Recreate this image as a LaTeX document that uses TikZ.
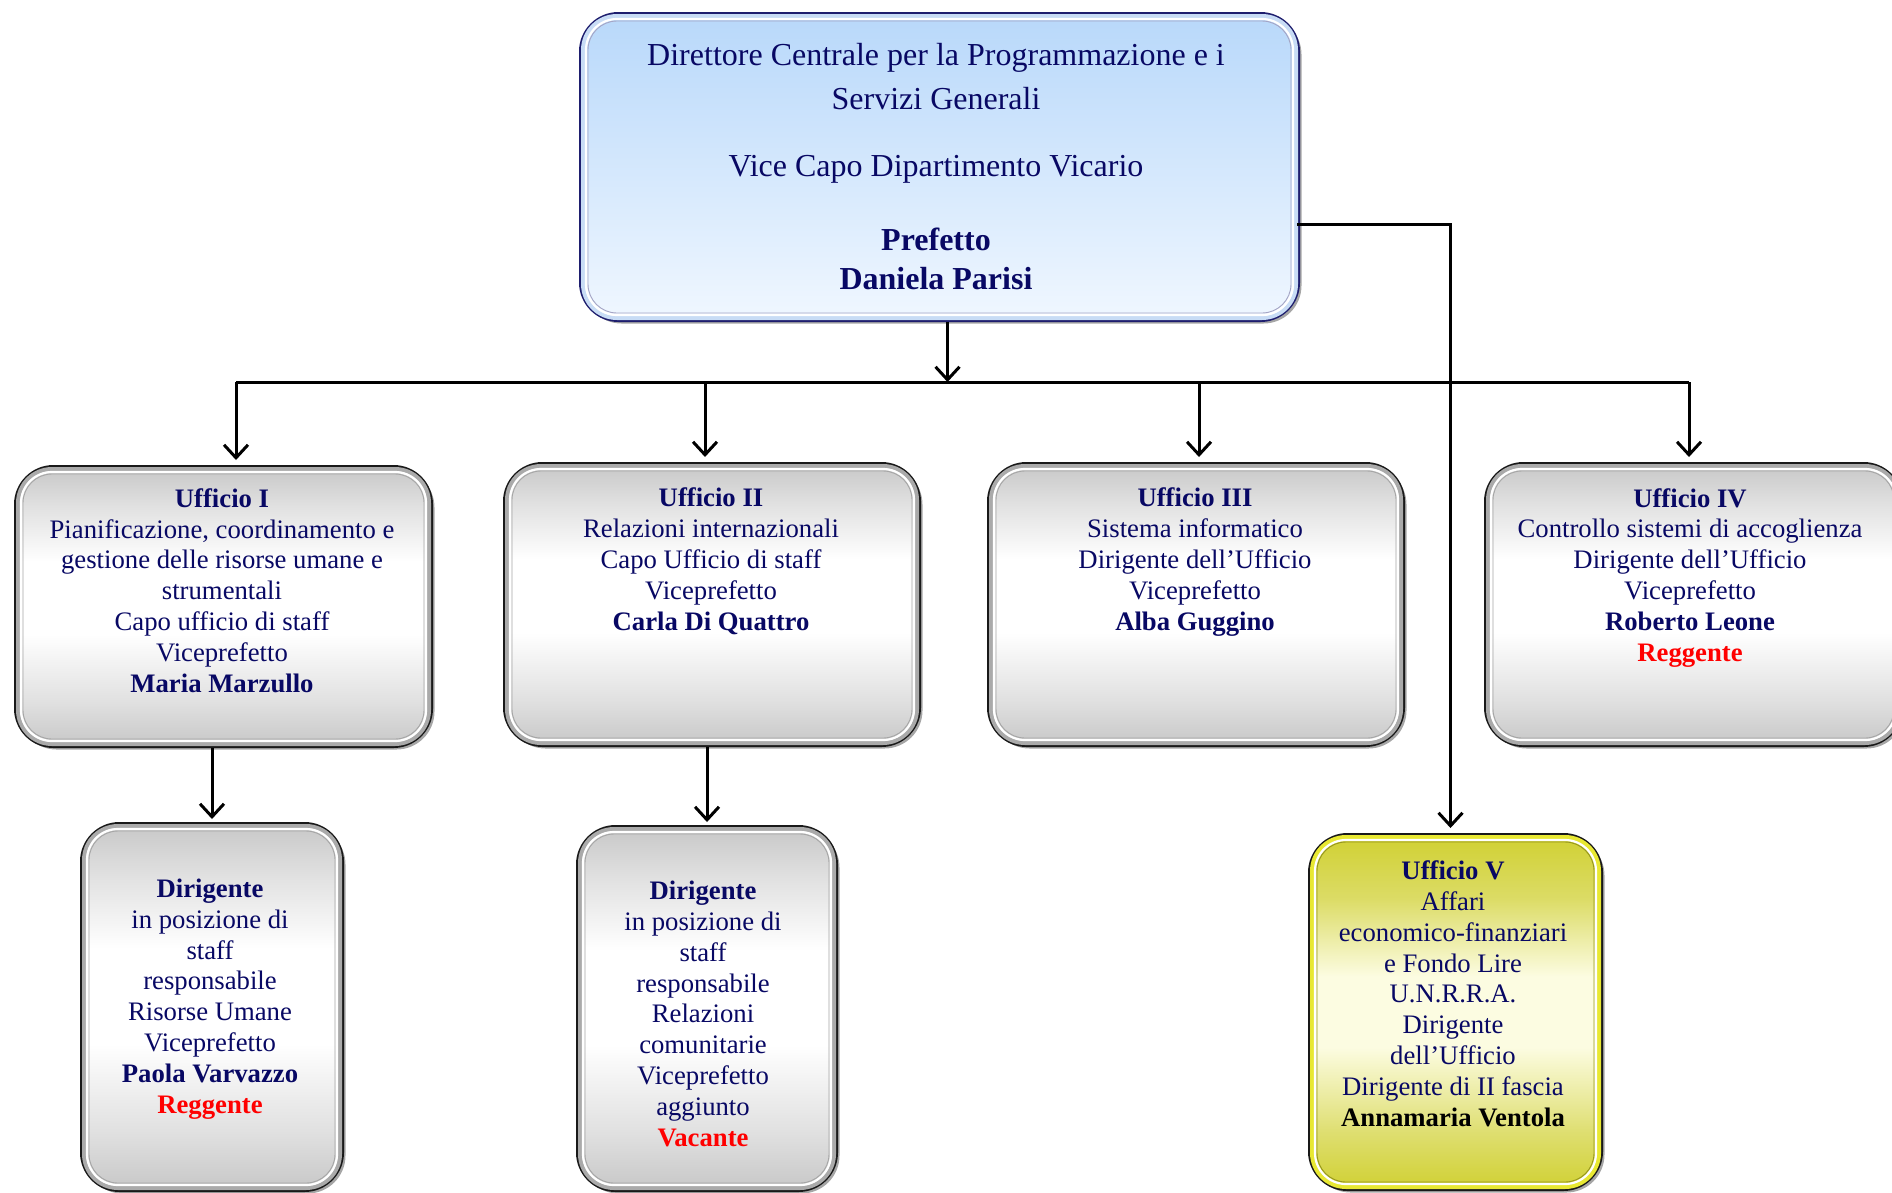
\documentclass[tikz,border=0pt]{standalone}
\usepackage{fontspec}
\setmainfont{Liberation Serif}
\usetikzlibrary{arrows.meta,shadows,calc}
\definecolor{navy}{RGB}{8,8,100}
\definecolor{rred}{RGB}{255,0,0}
\definecolor{topblue}{RGB}{184,216,250}
\definecolor{botblue}{RGB}{240,247,255}
\definecolor{bordblue}{RGB}{30,30,110}
\definecolor{olivey}{RGB}{208,208,50}
\definecolor{paley}{RGB}{252,252,225}
\definecolor{bandg}{RGB}{170,170,170}
\definecolor{bandb}{RGB}{200,220,245}
\definecolor{bandy}{RGB}{232,232,50}
\definecolor{innery}{RGB}{150,150,30}
\pgfdeclareverticalshading{gshade}{100bp}{color(0bp)=(black!22); color(25bp)=(black!22); color(33bp)=(black!12); color(45bp)=(white); color(58bp)=(white); color(68bp)=(black!12); color(75bp)=(black!22); color(100bp)=(black!22)}
\pgfdeclareverticalshading{yshade}{100bp}{color(0bp)=(olivey); color(25bp)=(olivey); color(33bp)=(olivey!70!white); color(45bp)=(paley); color(55bp)=(paley); color(66bp)=(olivey!75!white); color(75bp)=(olivey); color(100bp)=(olivey)}
\begin{document}
\begin{tikzpicture}[x=1pt,y=-1pt,
  box/.style={rounded corners=38pt, line width=3pt, draw=black!90, inner sep=0pt, anchor=north west,
    drop shadow={shadow xshift=3pt,shadow yshift=-3pt,opacity=0.35,fill=black}},
  gbox/.style={box, shading=gshade},
  ybox/.style={box, shading=yshade},
  bbox/.style={box, draw=bordblue, top color=topblue, bottom color=botblue},
  txt/.style={align=center, text=navy, inner sep=0pt, anchor=base, font=\fontsize{26.7}{30.8}\selectfont},
  arr/.style={line width=3pt, -{Straight Barb[length=13pt,width=24pt]}},
  busline/.style={line width=3pt}
]
\useasboundingbox (0,0) rectangle (1892,1192);
\fill[white] (0,0) rectangle (1892,1192);

% boxes
\node[bbox, minimum width=718pt, minimum height=307pt] (top) at (579,12) {};
\node[gbox, minimum width=416pt, minimum height=280pt] (u1) at (14,465) {};
\node[gbox, minimum width=415pt, minimum height=282pt] (u2) at (503,462) {};
\node[gbox, minimum width=415pt, minimum height=282pt] (u3) at (987,462) {};
\node[gbox, minimum width=416pt, minimum height=282pt] (u4) at (1484,462) {};
\node[gbox, minimum width=261pt, minimum height=367pt] (d1) at (80,822) {};
\node[gbox, minimum width=259pt, minimum height=364pt] (d2) at (576,825) {};
\node[ybox, minimum width=292pt, minimum height=355pt] (u5) at (1308,833) {};

% bevels
\foreach \n/\bc/\ic in {top/bandb/bordblue!40, u1/bandg/black!35, u2/bandg/black!35, u3/bandg/black!35, u4/bandg/black!35, d1/bandg/black!35, d2/bandg/black!35, u5/bandy/innery}{
  \draw[draw=\bc, line width=4pt, rounded corners=34pt] ([xshift=4pt,yshift=-4pt]\n.north west) rectangle ([xshift=-4pt,yshift=4pt]\n.south east);
  \draw[draw=white, line width=2.2pt, rounded corners=31pt] ([xshift=7pt,yshift=-7pt]\n.north west) rectangle ([xshift=-7pt,yshift=7pt]\n.south east);
  \draw[draw=\ic, line width=0.9pt, rounded corners=29pt] ([xshift=9pt,yshift=-9pt]\n.north west) rectangle ([xshift=-9pt,yshift=9pt]\n.south east);
}

% connectors
\coordinate (b1) at (236,382);
\coordinate (b2) at (705,382);
\coordinate (b3) at (1199,382);
\coordinate (b4) at (1689,382);
\coordinate (tr) at (1297,224);
\draw[busline] (b1) -- (b4);
\draw[arr] ([xshift=8pt]top.south) -- ([xshift=8pt]top.south |- b1);
\draw[arr] (b1) -- ([yshift=5pt]b1 |- u1.north);
\draw[arr] (b2) -- ([yshift=5pt]b2 |- u2.north);
\draw[arr] (b3) -- ([yshift=5pt]b3 |- u3.north);
\draw[arr] (b4) -- ([yshift=5pt]b4 |- u4.north);
\draw[arr] (tr) -| ([xshift=-5pt,yshift=5pt]u5.north);
\draw[arr] (d1.north |- u1.south) -- ([yshift=3pt]d1.north);
\draw[arr] (d2.north |- u2.south) -- ([yshift=3pt]d2.north);

% texts (anchor base = baseline of the last line)
\node[txt, font=\fontsize{32}{44}\selectfont] (ttop) at (936,289) {Direttore Centrale per la Programmazione e i\\ Servizi Generali\\[23pt] Vice Capo Dipartimento Vicario\\[30pt] \textbf{Prefetto}\\[-5pt] \textbf{Daniela Parisi}};
\node[txt] (tu1) at (222,692) {\textbf{Ufficio I}\\ Pianificazione, coordinamento e\\ gestione delle risorse umane e\\ strumentali\\ Capo ufficio di staff\\ Viceprefetto\\ \textbf{Maria Marzullo}};
\node[txt] (tu2) at (711,630) {\textbf{Ufficio II}\\ Relazioni internazionali\\ Capo Ufficio di staff\\ Viceprefetto\\ \textbf{Carla Di Quattro}};
\node[txt] (tu3) at (1195,630) {\textbf{Ufficio III}\\ Sistema informatico\\ Dirigente dell’Ufficio\\ Viceprefetto\\ \textbf{Alba Guggino}};
\node[txt] (tu4) at (1690,661) {\textbf{Ufficio IV}\\ Controllo sistemi di accoglienza\\ Dirigente dell’Ufficio\\ Viceprefetto\\ \textbf{Roberto Leone}\\ \textcolor{rred}{\textbf{Reggente}}};
\node[txt] (td1) at (210,1113) {\textbf{Dirigente}\\ in posizione di\\ staff\\ responsabile\\ Risorse Umane\\ Viceprefetto\\ \textbf{Paola Varvazzo}\\ \textcolor{rred}{\textbf{Reggente}}};
\node[txt] (td2) at (703,1146) {\textbf{Dirigente}\\ in posizione di\\ staff\\ responsabile\\ Relazioni\\ comunitarie\\ Viceprefetto\\ aggiunto\\ \textcolor{rred}{\textbf{Vacante}}};
\node[txt] (tu5) at (1453,1126) {\textbf{Ufficio V}\\ Affari\\ economico-finanziari\\ e Fondo Lire\\ U.N.R.R.A.\\ Dirigente\\ dell’Ufficio\\ Dirigente di II fascia\\ \textcolor{black}{\textbf{Annamaria Ventola}}};
\end{tikzpicture}
\end{document}
